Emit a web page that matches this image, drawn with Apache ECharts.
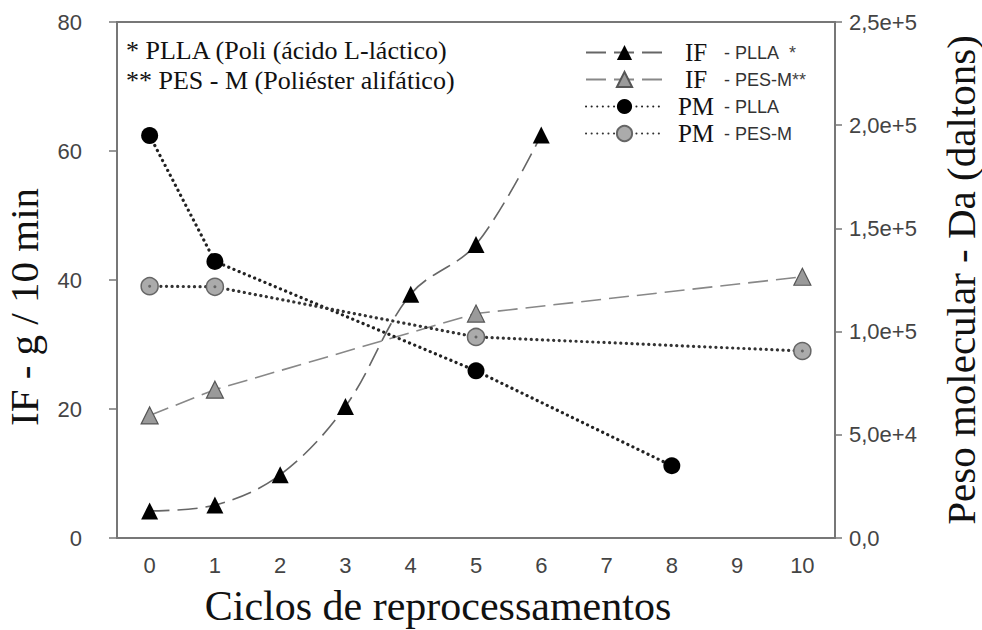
<!DOCTYPE html>
<html>
<head>
<meta charset="utf-8">
<script src="https://cdn.jsdelivr.net/npm/echarts@6/dist/echarts.min.js"></script>
<style>
  html, body { margin: 0; padding: 0; background: #fff; }
  #chart { width: 982px; height: 630px; }
</style>
</head>
<body>
<div id="chart"></div>
<script>
// Reprocessing cycles (x axis categories)
const cycles = ['0', '1', '2', '3', '4', '5', '6', '7', '8', '9', '10'];

// Melt flow index (IF, g / 10 min) – left axis
const ifPllaCycles = [0, 1, 2, 3, 4, 5, 6];
const ifPllaValues = [4.2, 5.1, 9.8, 20.4, 37.8, 45.5, 62.5];
const ifPesCycles = [0, 1, 5, 10];
const ifPesValues = [19.0, 23.0, 34.8, 40.5];

// Molecular weight (PM, Da) – right axis
const pmPllaCycles = [0, 1, 5, 8];
const pmPllaValues = [195000, 134000, 81000, 35000];
const pmPesCycles = [0, 1, 5, 10];
const pmPesValues = [122000, 121700, 97400, 90600];

// Axis ticks
const leftTicks = { min: 0, max: 80, step: 20 };
const rightTicks = { min: 0, max: 250000, step: 50000 };

const pairs = (xs, ys) => xs.map((x, i) => [String(x), ys[i]]);

const SERIF = '"Liberation Serif", "Times New Roman", serif';
const SANS = '"Liberation Sans", Arial, sans-serif';

function sciComma(v) {
  if (v === 0) return '0,0';
  const e = Math.floor(Math.log10(v));
  const m = v / Math.pow(10, e);
  return m.toFixed(1).replace('.', ',') + 'e+' + e;
}

const legendLabels = {
  'IF - PLLA': '{a|IF}{b|- PLLA}{c|  *}',
  'IF - PES-M': '{a|IF}{b|- PES-M}{c|**}',
  'PM - PLLA': '{a|PM}{b|- PLLA}',
  'PM - PES-M': '{a|PM}{b|- PES-M}'
};

const chart = echarts.init(document.getElementById('chart'), null, { renderer: 'svg' });

chart.setOption({
  animation: false,
  backgroundColor: '#fff',
  title: {
    text: '* PLLA (Poli (ácido L-láctico)\n** PES - M (Poliéster alifático)',
    left: 121,
    top: 30,
    textStyle: {
      fontFamily: SERIF,
      fontSize: 26,
      fontWeight: 'normal',
      color: '#111',
      lineHeight: 30
    }
  },
  legend: {
    orient: 'vertical',
    left: 580,
    top: 35,
    itemWidth: 77,
    itemHeight: 19,
    itemGap: 2,
    data: ['IF - PLLA', 'IF - PES-M', 'PM - PLLA', 'PM - PES-M'],
    formatter: name => legendLabels[name],
    textStyle: {
      lineHeight: 19,
      rich: {
        a: { fontFamily: SERIF, fontSize: 25, color: '#111', width: 56, align: 'center', lineHeight: 19 },
        b: { fontFamily: SANS, fontSize: 18, color: '#333', lineHeight: 19 },
        c: { fontFamily: SANS, fontSize: 18, color: '#444', lineHeight: 19 }
      }
    }
  },
  grid: {
    left: 117,
    right: 147,
    top: 22,
    bottom: 92,
    containLabel: false,
    outerBoundsMode: 'none',
    show: true,
    borderColor: '#777',
    borderWidth: 2
  },
  xAxis: {
    type: 'category',
    data: cycles,
    boundaryGap: true,
    name: 'Ciclos de reprocessamentos',
    nameLocation: 'middle',
    nameGap: 48,
    nameTextStyle: {
      fontFamily: SERIF,
      fontSize: 42,
      lineHeight: 40,
      color: '#111',
      padding: [0, 76, 0, 0]
    },
    axisLine: { lineStyle: { color: '#777', width: 2 } },
    axisTick: { alignWithLabel: true, length: 7, lineStyle: { color: '#777', width: 1.5 } },
    axisLabel: { fontFamily: SANS, fontSize: 22, color: '#444', margin: 16 },
    splitLine: { show: false }
  },
  yAxis: [
    {
      type: 'value',
      position: 'left',
      min: leftTicks.min,
      max: leftTicks.max,
      interval: leftTicks.step,
      name: 'IF - g / 10 min',
      nameLocation: 'middle',
      nameRotate: 90,
      nameGap: 73,
      nameTextStyle: {
        fontFamily: SERIF,
        fontSize: 41,
        color: '#111',
        padding: [0, 54, 0, 0]
      },
      axisLine: { show: true, lineStyle: { color: '#777', width: 2 } },
      axisTick: { show: true, length: 8, lineStyle: { color: '#777', width: 1.5 } },
      axisLabel: { fontFamily: SANS, fontSize: 22, color: '#444', margin: 35 },
      splitLine: { show: false }
    },
    {
      type: 'value',
      position: 'right',
      min: rightTicks.min,
      max: rightTicks.max,
      interval: rightTicks.step,
      name: 'Peso molecular - Da (daltons)',
      nameLocation: 'middle',
      nameRotate: 90,
      nameGap: 105,
      nameTextStyle: {
        fontFamily: SERIF,
        fontSize: 41,
        color: '#111'
      },
      axisLine: { show: true, lineStyle: { color: '#777', width: 2 } },
      axisTick: { show: true, length: 7, lineStyle: { color: '#777', width: 1.5 } },
      axisLabel: {
        fontFamily: SANS, fontSize: 22, color: '#444', margin: 14,
        formatter: sciComma
      },
      splitLine: { show: false }
    }
  ],
  series: [
    {
      name: 'IF - PLLA',
      type: 'line',
      yAxisIndex: 0,
      data: pairs(ifPllaCycles, ifPllaValues),
      smooth: 0.35,
      symbol: 'triangle',
      symbolSize: 17,
      itemStyle: { color: '#000' },
      lineStyle: { color: '#666', width: 1.6, type: [20, 8] },
      z: 3
    },
    {
      name: 'IF - PES-M',
      type: 'line',
      yAxisIndex: 0,
      data: pairs(ifPesCycles, ifPesValues),
      symbol: 'triangle',
      symbolSize: 17,
      itemStyle: { color: '#9a9a9a', borderColor: '#555', borderWidth: 1.2 },
      lineStyle: { color: '#888', width: 1.6, type: [20, 8] },
      z: 3
    },
    {
      name: 'PM - PLLA',
      type: 'line',
      yAxisIndex: 1,
      data: pairs(pmPllaCycles, pmPllaValues),
      symbol: 'circle',
      symbolSize: 17,
      itemStyle: { color: '#000' },
      lineStyle: { color: '#222', width: 3.2, type: [0.1, 5.5], cap: 'round' },
      z: 3
    },
    {
      name: 'PM - PES-M',
      type: 'line',
      yAxisIndex: 1,
      data: pairs(pmPesCycles, pmPesValues),
      symbol: 'circle',
      symbolSize: 17,
      itemStyle: { color: '#ababab', borderColor: '#666', borderWidth: 1.5 },
      lineStyle: { color: '#333', width: 3.2, type: [0.1, 5.5], cap: 'round' },
      z: 3
    },
    {
      // centre dot of the PES-M molecular weight markers
      name: 'PM - PES-M centro',
      type: 'scatter',
      yAxisIndex: 1,
      data: pairs(pmPesCycles, pmPesValues),
      symbol: 'circle',
      symbolSize: 3,
      itemStyle: { color: '#555' },
      silent: true,
      z: 4
    }
  ]
});
</script>
</body>
</html>
